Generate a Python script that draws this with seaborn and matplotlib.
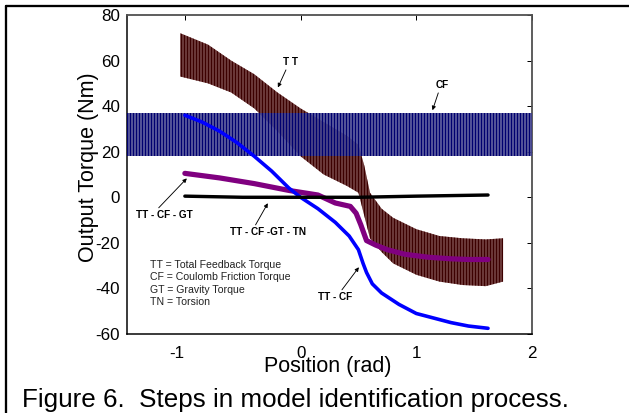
import numpy as np
import pandas as pd
import matplotlib
matplotlib.use("Agg")
import matplotlib.pyplot as plt
import seaborn as sns
from matplotlib.lines import Line2D

# ---------------- data ----------------
# Coulomb friction torque band (CF): oscillation envelope
cf_x = [-1.5, 2.0]
cf_upper = [37, 37]
cf_lower = [18, 18]

# Total feedback torque band (TT): oscillation envelope
tt_x = [-1.04, -0.8, -0.6, -0.4, -0.2, 0.0, 0.2, 0.4, 0.5, 0.55, 0.6, 0.7, 0.8, 1.0, 1.2, 1.4, 1.6, 1.75]
tt_upper = [72, 67, 60, 54, 46, 39, 33, 27, 23, 14, 2, -5, -9, -14, -17, -18, -18.5, -18]
tt_lower = [53, 50, 46, 39, 29, 18, 10, 5, 2, -8, -18, -24, -29, -34, -37, -38.5, -39, -37]

# TT - CF (blue)
ttcf_x = [-1.0, -0.85, -0.7, -0.55, -0.4, -0.25, -0.1, 0.0, 0.15, 0.3, 0.42, 0.5, 0.54, 0.57, 0.62, 0.7, 0.85, 1.0, 1.15, 1.3, 1.45, 1.62]
ttcf_y = [36, 33, 29, 24, 18, 11.5, 4, 0, -5, -11, -17, -23, -29, -33, -38, -42, -47, -51, -53, -55, -56.5, -57.5]

# TT - CF - GT (purple)
ttcfgt_x = [-1.0, -0.7, -0.4, -0.1, 0.15, 0.3, 0.43, 0.48, 0.52, 0.57, 0.65, 0.75, 0.9, 1.1, 1.3, 1.45, 1.62]
ttcfgt_y = [10.5, 8.5, 6, 3, 1, -2.5, -4, -7, -12, -19, -21, -23, -25, -26.3, -27, -27.3, -27.3]

# TT - CF - GT - TN (black)
resid_x = [-1.0, -0.5, 0.0, 0.5, 1.0, 1.62]
resid_y = [0.5, 0.0, 0.0, 0.0, 0.5, 1.0]

x_ticks = [-1, 0, 1, 2]
y_ticks = [-60, -40, -20, 0, 20, 40, 60, 80]

legend_lines = ["TT = Total Feedback Torque",
                "CF = Coulomb Friction Torque",
                "GT = Gravity Torque",
                "TN = Torsion"]

# ---------------- style ----------------
sns.set_theme(style="white")
plt.rcParams["font.family"] = ["Liberation Sans", "DejaVu Sans"]
plt.rcParams["axes.unicode_minus"] = False
plt.rcParams["hatch.linewidth"] = 2.0

DPI = 72
fig = plt.figure(figsize=(629 / DPI, 413 / DPI), dpi=DPI, facecolor="white")
ax = fig.add_axes([127 / 629, 1 - 334 / 413, (532 - 127) / 629, (334 - 15) / 413])
ax.set_facecolor("white")

# TT band
ax.fill_between(tt_x, tt_lower, tt_upper, facecolor="#9a7070", edgecolor="#3c0000",
                hatch="||||", linewidth=0, zorder=2)
# CF band
ax.fill_between(cf_x, cf_lower, cf_upper, facecolor=(0.56, 0.56, 0.70, 0.8), edgecolor="#000070",
                hatch="||||", linewidth=0, zorder=3)

sns.lineplot(x=ttcf_x, y=ttcf_y, color="#0000ff", lw=3.6, ax=ax, zorder=5, sort=False, estimator=None)
sns.lineplot(x=ttcfgt_x, y=ttcfgt_y, color="#800080", lw=5.2, ax=ax, zorder=4, sort=False, estimator=None)
sns.lineplot(x=resid_x, y=resid_y, color="black", lw=3.4, ax=ax, zorder=6, sort=False, estimator=None)

ax.set_xlim(-1.5, 2)
ax.set_ylim(-60, 80)
ax.set_xticks(x_ticks)
ax.set_yticks(y_ticks)
ax.set_xticklabels([str(v) for v in x_ticks])
ax.set_yticklabels([str(v) for v in y_ticks])
ax.tick_params(direction="in", length=5, width=1, top=True, right=True,
               labelsize=17, colors="black", labelcolor="black")
ax.tick_params(axis="x", pad=12.5)
ax.tick_params(axis="y", pad=7)
ax.get_xticklabels()[0].set_horizontalalignment("right")

for side in ["left", "bottom"]:
    ax.spines[side].set_color("black")
    ax.spines[side].set_linewidth(1.5)
for side in ["top", "right"]:
    ax.spines[side].set_color("#505050")
    ax.spines[side].set_linewidth(1.8)
    ax.spines[side].set_visible(True)

ax.set_xlabel("Position (rad)", fontsize=21.5, color="black")
ax.set_ylabel("Output Torque (Nm)", fontsize=21.5, color="black")
ax.xaxis.set_label_coords(0.495, -0.070)
ax.yaxis.set_label_coords(-0.070, 0.522)

# annotations
ann_kw = dict(fontsize=10, fontweight="bold", color="black", ha="center", va="center")
arrow = dict(arrowstyle="-|>", color="black", lw=0.9, mutation_scale=8, shrinkA=0, shrinkB=0)

ax.annotate("T T", xy=(-0.196, 48.2), xytext=(-0.084, 59.2),
            arrowprops=dict(arrow, relpos=(0.25, 0.0)), zorder=8, **ann_kw)
ax.annotate("CF", xy=(1.14, 38.2), xytext=(1.22, 49.1),
            arrowprops=dict(arrow, relpos=(0.3, 0.0)), zorder=8, **ann_kw)
ax.annotate("TT - CF - GT", xy=(-0.983, 8.3), xytext=(-1.173, -7.9),
            arrowprops=dict(arrow, relpos=(0.35, 1.0)), zorder=8, **ann_kw)
ax.annotate("TT - CF -GT - TN", xy=(-0.283, -2.6), xytext=(-0.283, -15.4),
            arrowprops=dict(arrow, relpos=(0.32, 1.0)), zorder=8, **ann_kw)
ax.annotate("TT - CF", xy=(0.504, -30.7), xytext=(0.297, -43.9),
            arrowprops=dict(arrow, relpos=(0.65, 1.0)), zorder=8, **ann_kw)

for i, line in enumerate(legend_lines):
    ax.annotate(line, xy=(-1.302, -29.8), xytext=(0, -12.2 * i), textcoords="offset points",
                fontsize=10.5, color="#222222", ha="left", va="center", zorder=8)

# caption
fig.text(22 / 629, 1 - 406.5 / 413, "Figure 6.  Steps in model identification process.",
         fontsize=26, color="black", ha="left", va="baseline")

# outer frame (top and left edges)
fig.add_artist(Line2D([6 / 629, 1.0], [1 - 6 / 413, 1 - 6 / 413], color="black", lw=2.3,
                      transform=fig.transFigure))
fig.add_artist(Line2D([6 / 629, 6 / 629], [0.0, 1 - 6 / 413], color="black", lw=2.3,
                      transform=fig.transFigure))

fig.savefig("out.png", dpi=DPI, facecolor="white")
